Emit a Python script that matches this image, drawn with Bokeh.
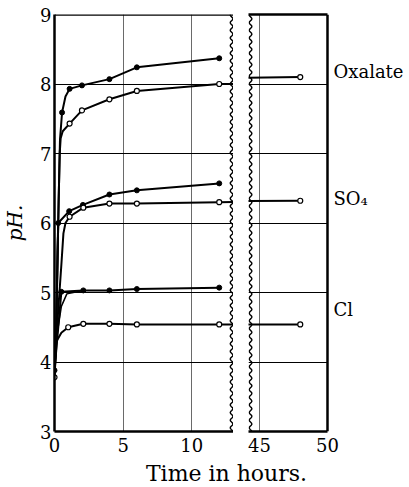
import numpy as np
from bokeh.plotting import figure
from bokeh.layouts import row, column
from bokeh.models import Span, FixedTicker, LinearAxis
from bokeh.core.properties import value
from bokeh.embed import file_html
from bokeh.resources import INLINE

FONT = "DejaVu Serif"

# ---------------- data ----------------
# Oxalate, filled points
ox_f_rise_t = [0.0, 0.12, 0.3, 0.4]
ox_f_rise_ph = [3.86, 4.4, 6.3, 7.2]
ox_f_t = [0.55, 0.8, 1.1, 2.0, 4.0, 6.0, 12.0]
ox_f_ph = [7.59, 7.82, 7.93, 7.98, 8.07, 8.24, 8.37]
ox_f_marked = [True, False, True, True, True, True, True]

# Oxalate, open points
ox_o_rise_t = [0.0, 0.12, 0.3, 0.38, 0.45, 0.6]
ox_o_rise_ph = [3.8, 4.4, 6.3, 7.0, 7.22, 7.32]
ox_o_t = [1.1, 2.0, 4.0, 6.0, 12.0, 48.0]
ox_o_ph = [7.43, 7.62, 7.78, 7.9, 8.0, 8.1]

# SO4, filled points
so4_f_rise_t = [0.0, 0.12, 0.22]
so4_f_rise_ph = [3.86, 4.4, 5.6]
so4_f_t = [0.27, 1.07, 2.07, 4.0, 6.0, 12.0]
so4_f_ph = [6.0, 6.17, 6.26, 6.41, 6.47, 6.57]

# SO4, open points
so4_o_rise_t = [0.0, 0.15, 0.5, 0.65, 0.8]
so4_o_rise_ph = [3.8, 4.4, 5.4, 5.85, 6.0]
so4_o_t = [1.1, 2.1, 4.0, 6.0, 12.0, 48.0]
so4_o_ph = [6.09, 6.22, 6.28, 6.28, 6.3, 6.32]

# Cl, filled points
cl_f_t = [0.0, 0.5, 2.1, 4.0, 6.0, 12.0]
cl_f_ph = [3.88, 5.01, 5.03, 5.03, 5.05, 5.07]
cl_f_smooth_t = [0.15, 0.5, 0.9, 2.1]
cl_f_smooth_ph = [4.35, 4.8, 4.98, 5.03]

# Cl, open points
cl_o_rise_t = [0.15, 0.5]
cl_o_rise_ph = [4.3, 4.42]
cl_o_t = [0.0, 1.0, 2.1, 4.0, 6.0, 12.0, 48.0]
cl_o_ph = [3.78, 4.5, 4.55, 4.55, 4.54, 4.54, 4.54]

series_labels = ["Oxalate", "SO\u2084", "Cl"]
label_ph = [8.18, 6.35, 4.76]

y_ticks = [3, 4, 5, 6, 7, 8, 9]
left_x_ticks = [0, 5, 10]
right_x_ticks = [45, 50]
right_panel = (44.2, 50.0)

# ---------------- figures ----------------
LW = 2
H = 456
TOP = 14
BOTTOM = 25
p1 = figure(width=233, height=H, x_range=(0, 13.04), y_range=(3, 9),
            output_backend="svg", toolbar_location=None,
            min_border_left=53, min_border_right=0, min_border_top=TOP, min_border_bottom=BOTTOM)
# right panel: frame runs on to the page edge so the series names fit inside it
p2 = figure(width=176, height=H, x_range=(right_panel[0], right_panel[0] + 161 / 13.62),
            y_range=p1.y_range,
            output_backend="svg", toolbar_location=None, y_axis_location=None,
            min_border_left=15, min_border_right=0, min_border_top=TOP, min_border_bottom=BOTTOM)

for p in (p1, p2):
    p.outline_line_color = None
    p.background_fill_color = "white"
    p.border_fill_color = "white"
    p.xaxis.axis_line_width = 2.5
    p.xaxis.axis_line_color = "black"
    p.xaxis.major_tick_line_color = None
    p.xaxis.minor_tick_line_color = None
    p.xaxis.major_tick_out = 0
    p.xaxis.major_tick_in = 0
    p.xaxis.minor_tick_out = 0
    p.xaxis.major_label_text_font = FONT
    p.xaxis.major_label_text_font_size = "18px"
    p.xaxis.major_label_text_color = "black"
    p.xaxis.major_label_standoff = 6
    p.ygrid.ticker = FixedTicker(ticks=y_ticks)
    p.ygrid.grid_line_color = "black"
    p.ygrid.grid_line_width = 1.2
    p.xgrid.grid_line_color = "#444444"
    p.xgrid.grid_line_width = 0.8

p1.add_layout(Span(location=9, dimension="width", line_color="black", line_width=2.5))
p1.xaxis.ticker = FixedTicker(ticks=left_x_ticks)
p2.xaxis.ticker = FixedTicker(ticks=right_x_ticks)
p2.xaxis.bounds = right_panel
p1.xgrid.ticker = FixedTicker(ticks=[5, 10])
p2.xgrid.ticker = FixedTicker(ticks=[45])
p2.ygrid.cross_bounds = right_panel

top_axis = LinearAxis(ticker=FixedTicker(ticks=[]), bounds=right_panel,
                      axis_line_width=2.5, axis_line_color="black",
                      major_tick_out=0, major_tick_in=0, minor_tick_out=0, minor_tick_in=0,
                      major_label_text_font_size="0px", major_label_standoff=0)
p2.add_layout(top_axis, "above")
p2.add_layout(Span(location=right_panel[1], dimension="height", line_color="black", line_width=2.5))

p1.yaxis.ticker = FixedTicker(ticks=y_ticks)
p1.yaxis.axis_line_width = 2.5
p1.yaxis.axis_line_color = "black"
p1.yaxis.major_tick_line_color = None
p1.yaxis.minor_tick_line_color = None
p1.yaxis.major_tick_out = 0
p1.yaxis.major_tick_in = 0
p1.yaxis.minor_tick_out = 0
p1.yaxis.major_label_text_font = FONT
p1.yaxis.major_label_text_font_size = "18px"
p1.yaxis.major_label_text_color = "black"
p1.yaxis.major_label_standoff = 3
p1.yaxis.axis_label = "pH."
p1.yaxis.axis_label_text_font = FONT
p1.yaxis.axis_label_text_font_style = "italic"
p1.yaxis.axis_label_text_font_size = "20px"
p1.yaxis.axis_label_text_color = "black"
p1.yaxis.axis_label_standoff = 10

# wavy break edges (decoration only)
wave_y = np.linspace(3, 9, 400)
wave_dx = 0.1 * np.sin(wave_y * 2 * np.pi / 0.11)
p1.line(12.9 + wave_dx, wave_y, line_color="black", line_width=1.4)
p2.line(44.35 + wave_dx, wave_y, line_color="black", line_width=1.4)

def draw(p, rise_t, rise_ph, t, ph, filled, marked=None):
    p.line(rise_t + t, rise_ph + ph, line_color="black", line_width=LW)
    mt = [a for i, a in enumerate(t) if marked is None or marked[i]]
    mp = [b for i, b in enumerate(ph) if marked is None or marked[i]]
    if filled:
        p.scatter(mt, mp, size=5, marker="circle", fill_color="black", line_color="black")
    else:
        p.scatter(mt, mp, size=5, marker="circle", fill_color="white", line_color="black", line_width=1.2)

for p in (p1, p2):
    draw(p, ox_f_rise_t, ox_f_rise_ph, ox_f_t, ox_f_ph, True, ox_f_marked)
    draw(p, ox_o_rise_t, ox_o_rise_ph, ox_o_t, ox_o_ph, False)
    draw(p, so4_f_rise_t, so4_f_rise_ph, so4_f_t, so4_f_ph, True)
    draw(p, so4_o_rise_t, so4_o_rise_ph, so4_o_t, so4_o_ph, False)
    p.line(cl_f_t, cl_f_ph, line_color="black", line_width=LW)
    p.line(cl_f_smooth_t, cl_f_smooth_ph, line_color="black", line_width=1.5)
    p.scatter(cl_f_t, cl_f_ph, size=5, marker="circle", fill_color="black", line_color="black")
    p.line([cl_o_t[0]] + cl_o_rise_t + cl_o_t[1:], [cl_o_ph[0]] + cl_o_rise_ph + cl_o_ph[1:],
           line_color="black", line_width=LW)
    p.scatter(cl_o_t, cl_o_ph, size=5, marker="circle", fill_color="white", line_color="black", line_width=1.2)

# series names to the right of the right panel
p2.text(x=[right_panel[1]] * len(series_labels), y=label_ph, text=series_labels, x_offset=6,
        text_font=value(FONT), text_font_size="18px", text_color="black",
        text_baseline="middle", text_align="left")

# x-axis title spanning both panels
p3 = figure(width=409, height=31, x_range=(0, 409), y_range=(0, 31),
            output_backend="svg", toolbar_location=None,
            x_axis_location=None, y_axis_location=None,
            min_border=0, min_border_left=0, min_border_right=0, min_border_top=0, min_border_bottom=0)
p3.outline_line_color = None
p3.grid.visible = False
p3.text(x=[226], y=[14], text=["Time in hours."], text_font=value(FONT), text_font_size="22px",
        text_align="center", text_baseline="middle", text_color="black")

layout = column(row(p1, p2), p3)
open("out.html", "w").write(file_html(layout, INLINE))
